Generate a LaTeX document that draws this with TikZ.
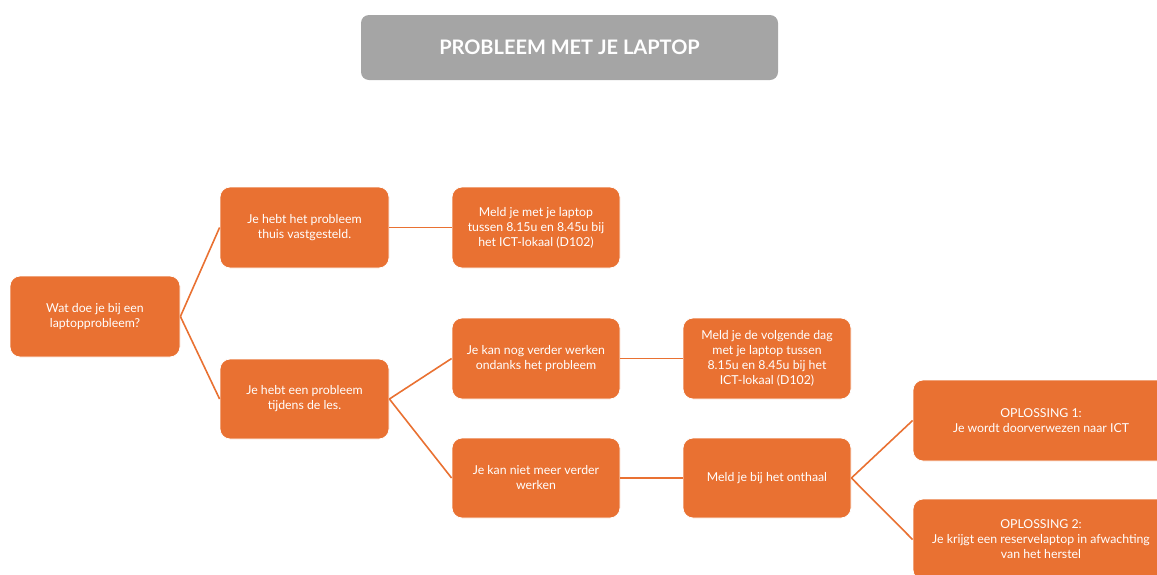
\documentclass[tikz,border=0pt]{standalone}
\usepackage{fontspec}
\setmainfont{Lato}
\definecolor{boxorange}{HTML}{E97132}
\definecolor{titlegray}{HTML}{A5A5A5}
\begin{document}
\begin{tikzpicture}[x=1pt,y=1pt,
  box/.style={draw=white, line width=0.8pt, fill=boxorange, rounded corners=10pt, text=white, align=center,
    font=\fontsize{12.3}{15}\selectfont, inner sep=0pt},
  conn/.style={draw=boxorange, line width=1.6pt}]
\useasboundingbox (0,0) rectangle (1157,-574);
\clip (0,0) rectangle (1157,-574);
\node[fill=titlegray, rounded corners=8pt, minimum width=417pt, minimum height=65pt, text=white,
  font=\fontsize{20}{24}\selectfont\bfseries] (title) at (569.5,-47.5) {PROBLEEM MET JE LAPTOP};
\node[box, minimum width=170pt, minimum height=81pt] (root) at (95,-316.5) {Wat doe je bij een\\laptopprobleem?};
\node[box, minimum width=169pt, minimum height=81pt] (a1) at (304.5,-227.5) {Je hebt het probleem\\thuis vastgesteld.};
\node[box, minimum width=169pt, minimum height=80pt] (a2) at (304.5,-399) {Je hebt een probleem\\tijdens de les.};
\node[box, minimum width=168pt, minimum height=81pt] (b1) at (536,-227.5) {Meld je met je laptop\\tussen 8.15u en 8.45u bij\\het ICT-lokaal (D102)};
\node[box, minimum width=168pt, minimum height=81pt] (b2) at (536,-358.5) {Je kan nog verder werken\\ondanks het probleem};
\node[box, minimum width=168pt, minimum height=80pt] (b3) at (536,-478) {Je kan niet meer verder\\werken};
\node[box, minimum width=168pt, minimum height=81pt] (c2) at (767,-358.5) {Meld je de volgende dag\\met je laptop tussen\\8.15u en 8.45u bij het\\ICT-lokaal (D102)};
\node[box, minimum width=168pt, minimum height=80pt] (c3) at (767,-478) {Meld je bij het onthaal};
\node[box, minimum width=256pt, minimum height=81pt] (d1) at (1041,-420.5) {OPLOSSING 1:\\Je wordt doorverwezen naar ICT};
\node[box, minimum width=256pt, minimum height=81pt] (d2) at (1041,-539.5) {OPLOSSING 2:\\Je krijgt een reservelaptop in afwachting\\van het herstel};
\draw[conn] (root.east) -- (a1.west);
\draw[conn] (root.east) -- (a2.west);
\draw[conn] (a1.east) -- (b1.west);
\draw[conn] (a2.east) -- (b2.west);
\draw[conn] (a2.east) -- (b3.west);
\draw[conn] (b2.east) -- (c2.west);
\draw[conn] (b3.east) -- (c3.west);
\draw[conn] (c3.east) -- (d1.west);
\draw[conn] (c3.east) -- (d2.west);
\end{tikzpicture}
\end{document}
